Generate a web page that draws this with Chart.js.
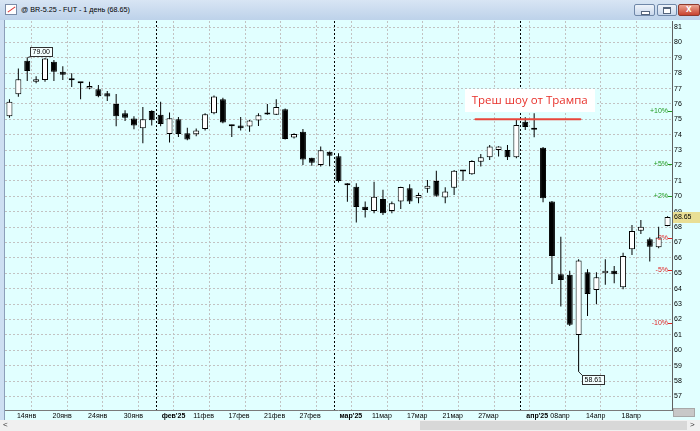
<!DOCTYPE html>
<html>
<head>
<meta charset="utf-8">
<script src="https://cdn.jsdelivr.net/npm/chart.js@4.4.1/dist/chart.umd.min.js"></script>
<style>
html, body { margin: 0; padding: 0; }
body { width: 700px; height: 431px; overflow: hidden; position: relative; background: #f0f0f0; font-family: "Liberation Sans", Arial, sans-serif; }
#bar { position: absolute; left: 0; top: 0; width: 700px; height: 20px; background: linear-gradient(#d8e5f4, #bdd2ea); }
#icon { position: absolute; left: 5px; top: 4px; width: 10px; height: 9px; background: #fff; border: 1px solid #7a8ca8; overflow: hidden; }
#icon i { position: absolute; left: 1px; top: 4px; width: 9px; height: 1px; background: #d33; transform: rotate(-35deg); }
#ttl { position: absolute; left: 21px; top: 5px; font-size: 7.2px; color: #000; white-space: nowrap; }
.b { position: absolute; top: 4px; height: 10px; border: 1px solid #6f87a8; border-radius: 2px; background: linear-gradient(#eef3fa, #c9d8ec); }
#bmin { left: 634px; width: 19px; }
#bmax { left: 657px; width: 18px; }
#bcls { left: 678px; width: 20px; background: linear-gradient(#eba493, #c9442f); border-color: #8d3a2e; }
#bmin:after { content: ""; position: absolute; left: 6px; top: 6px; width: 7px; height: 2px; background: #fff; border: 1px solid #55657c; }
#bmax:after { content: ""; position: absolute; left: 5px; top: 2px; width: 6px; height: 4px; border: 1px solid #55657c; border-top-width: 2px; background: #fff; }
#bcls:after { content: "x"; position: absolute; left: 7px; top: -2px; font: bold 10px "Liberation Sans"; color: #fff; }
#side { position: absolute; left: 0; top: 20px; width: 4px; height: 400px; background: #cddff2; border-right: 1px solid #8b9fb9; }
#wrap { position: absolute; left: 5px; top: 20px; width: 695px; height: 400px; background: #e1ffff; }
#scroll { position: absolute; left: 0; top: 420px; width: 700px; height: 11px; background: #f0f0f0; font-size: 8px; color: #333; }
#thumb { position: absolute; left: 420px; top: 1px; width: 267px; height: 9px; background: #d8d8d8; }
#la { position: absolute; left: 3px; top: 0; }
#ra { position: absolute; left: 690px; top: 0; }
#corner { position: absolute; left: 673px; top: 408px; width: 20px; height: 7px; background: #c8c8c8; border: 1px solid #a8a8a8; z-index: 2; }
</style>
</head>
<body>
<div id="bar"><div id="icon"><i></i></div><div id="ttl"></div>
  <div class="b" id="bmin"></div><div class="b" id="bmax"></div><div class="b" id="bcls"></div></div>
<div id="side"></div>
<div id="wrap"><canvas id="myChart" width="695" height="400"></canvas></div>
<div id="corner"></div>
<div id="scroll"><div id="thumb"></div><span id="la">&lt;</span><span id="ra">&gt;</span></div>
<script>
// trading days, DD.MM
var dates = [
  '09.01','10.01','13.01','14.01','15.01','16.01','17.01','20.01','21.01','22.01','23.01','24.01','27.01','28.01','29.01','30.01','31.01',
  '03.02','04.02','05.02','06.02','07.02','10.02','11.02','12.02','13.02','14.02','17.02','18.02','19.02','20.02','21.02','24.02','25.02','26.02','27.02','28.02',
  '03.03','04.03','05.03','06.03','07.03','10.03','11.03','12.03','13.03','14.03','17.03','18.03','19.03','20.03','21.03','24.03','25.03','26.03','27.03','28.03','31.03',
  '01.04','02.04','03.04','04.04','07.04','08.04','09.04','10.04','11.04','14.04','15.04','16.04','17.04','18.04','21.04','22.04','23.04'
];

var open = [
  75.20, 76.63, 78.80, 77.45, 77.55, 78.75, 78.10, 77.62, 77.40, 77.00, 76.95, 76.70, 76.00, 75.40, 75.05, 74.42, 75.55,
  75.30, 74.05, 75.00, 74.10, 74.03, 74.38, 75.40, 76.30, 74.60, 74.60, 74.53, 74.92, 75.36, 75.30, 75.65, 73.82, 74.20, 72.50, 72.04, 72.90,
  72.60, 70.72, 70.63, 69.33, 69.05, 69.83, 69.05, 69.66, 70.53, 69.88, 70.50, 71.00, 69.92, 70.56, 71.66, 71.43, 72.25, 72.54, 73.01, 73.01, 72.54,
  74.85, 74.40, 73.16, 69.66, 64.94, 64.90, 61.00, 65.07, 63.92, 65.00, 65.16, 64.10, 66.56, 67.77, 67.21, 66.69, 68.08
];
var high = [
  76.30, 78.30, 79.00, 77.80, 78.98, 78.85, 78.45, 78.00, 77.42, 77.45, 77.23, 76.85, 76.65, 75.60, 75.20, 75.80, 75.60,
  76.15, 75.45, 75.15, 74.45, 74.40, 75.40, 76.55, 76.40, 74.65, 75.15, 74.96, 75.40, 76.00, 76.30, 75.70, 74.10, 74.38, 72.50, 73.23, 72.92,
  72.80, 70.85, 70.85, 69.66, 70.95, 70.42, 69.66, 70.63, 70.79, 70.24, 71.06, 71.67, 70.59, 71.71, 71.68, 72.35, 72.75, 73.34, 73.25, 73.34, 74.96,
  75.14, 75.40, 73.20, 69.70, 67.38, 65.16, 65.92, 65.27, 65.07, 65.92, 65.48, 66.34, 68.14, 68.47, 67.32, 68.03, 68.70
];
var low = [
  75.10, 76.47, 77.50, 77.35, 77.45, 77.50, 77.55, 77.10, 76.30, 76.95, 76.43, 76.20, 74.55, 74.90, 74.35, 73.45, 74.60,
  74.55, 73.50, 73.85, 73.65, 73.90, 74.27, 75.33, 74.75, 73.85, 74.27, 74.20, 74.57, 75.30, 75.29, 73.70, 73.75, 72.04, 71.98, 71.93, 71.95,
  70.90, 69.65, 68.30, 68.62, 68.90, 68.79, 68.90, 69.18, 69.50, 69.55, 70.24, 69.98, 69.55, 70.09, 71.02, 71.40, 71.93, 72.36, 72.58, 72.36, 72.47,
  74.31, 73.84, 69.62, 64.31, 62.84, 61.58, 58.61, 62.23, 62.99, 64.25, 64.36, 63.97, 66.19, 67.56, 65.76, 66.63, 68.05
];
var close = [
  76.15, 77.60, 78.15, 77.60, 78.95, 78.10, 77.90, 77.54, 77.35, 77.17, 76.50, 76.48, 75.20, 75.10, 74.60, 75.00, 74.95,
  74.70, 75.07, 74.05, 73.70, 74.27, 75.33, 76.48, 74.80, 74.55, 74.42, 74.92, 75.26, 75.32, 75.80, 73.73, 74.05, 72.40, 72.18, 73.00, 72.64,
  71.00, 70.82, 69.30, 69.12, 69.98, 68.90, 69.55, 70.60, 69.66, 70.09, 70.68, 70.03, 70.31, 71.67, 71.62, 72.30, 72.54, 73.23, 73.23, 72.54, 74.64,
  74.50, 74.33, 69.88, 66.13, 64.57, 61.65, 65.83, 63.66, 64.75, 65.16, 64.94, 66.13, 67.75, 68.03, 66.73, 67.32, 68.65
];

var dayTicks = ['14.01','20.01','24.01','30.01','11.02','17.02','21.02','27.02','11.03','17.03','21.03','27.03','08.04','14.04','18.04'];
var monthTicks = ['03.02','03.03','01.04'];
var monthNames = ['янв','фев','мар','апр'];
var yTicks = [57,58,59,60,61,62,63,64,65,66,67,68,69,70,71,72,73,74,75,76,77,78,79,80,81];
var pctLevels = [10, 5, 2, -2, -5, -10];

var note = 'Треш шоу от Трампа';
var noteLevel = 75.0;     // price of the red line
var noteFrom = 52.4, noteTo = 64.2;   // bar index range of the line
var noteX = 58.5, noteY = 76.26;      // centre of the caption

var lastClose = close[close.length - 1];
document.getElementById('ttl').textContent = '@ BR-5.25 - FUT - 1 день (' + lastClose.toFixed(2) + ')';

var FONT = '"Liberation Sans", Arial, sans-serif';
Chart.defaults.font.family = FONT;

function dayLabel(d) {
  return d.slice(0, 2) + monthNames[parseInt(d.slice(3), 10) - 1];
}
function isMonthStart(i) {
  return monthTicks.indexOf(dates[i]) >= 0;
}

var overlay = {
  id: 'overlay',
  afterLayout: function (chart) {
    // month row has no height of its own; give its label clip the same band as x
    var s = chart.scales.xm;
    s.bottom = s.top + 10;
  },
  afterDatasetsDraw: function (chart) {
    var c = chart.ctx, a = chart.chartArea, xs = chart.scales.x, ys = chart.scales.y;
    c.save();

    // percent levels from last close
    c.font = '7px ' + FONT;
    c.textAlign = 'right';
    c.textBaseline = 'middle';
    c.lineWidth = 1;
    pctLevels.forEach(function (p) {
      var py = Math.round(ys.getPixelForValue(lastClose * (1 + p / 100))) + 0.5;
      c.fillStyle = c.strokeStyle = p > 0 ? '#1f9a1f' : '#e02424';
      c.fillText((p > 0 ? '+' : '') + p + '%', a.right - 4, py);
      c.beginPath(); c.moveTo(a.right - 4, py); c.lineTo(a.right, py); c.stroke();
    });

    // extreme callouts
    function callout(i, v, up) {
      var cx = xs.getPixelForValue(i), cy = ys.getPixelForValue(v);
      var t = v.toFixed(2);
      c.font = '7px ' + FONT;
      var w = Math.round(c.measureText(t).width) + 4, h = 9;
      var bx = Math.round(cx + 3) + 0.5;
      var by = up ? Math.round(cy - 2 - h) + 0.5 : Math.round(cy + 3) + 0.5;
      c.strokeStyle = '#303030';
      c.beginPath();
      c.moveTo(cx, cy);
      c.lineTo(bx, up ? by + h : by);
      c.stroke();
      c.fillStyle = '#f4ffff';
      c.fillRect(bx, by, w, h);
      c.strokeRect(bx, by, w, h);
      c.fillStyle = '#000';
      c.textAlign = 'left';
      c.fillText(t, bx + 2, by + h / 2 + 0.5);
    }
    var hi = Math.max.apply(null, high), lo = Math.min.apply(null, low);
    callout(high.indexOf(hi), hi, true);
    callout(low.indexOf(lo), lo, false);

    // red note
    c.font = '11.5px "Open Sans", sans-serif';
    var tx = xs.getPixelForValue(noteX), ty = ys.getPixelForValue(noteY);
    c.fillStyle = '#ffffff';
    c.fillRect(Math.round(tx - 65), Math.round(ty - 11), 130, 23);
    c.fillStyle = '#e8302a';
    c.textAlign = 'center';
    c.fillText(note, tx, ty + 1);
    c.strokeStyle = '#e8453a';
    c.lineWidth = 2;
    c.lineCap = 'round';
    var ly = ys.getPixelForValue(noteLevel);
    c.beginPath();
    c.moveTo(xs.getPixelForValue(noteFrom), ly);
    c.lineTo(xs.getPixelForValue(noteTo), ly);
    c.stroke();
    c.restore();
  },
  afterDraw: function (chart) {
    var c = chart.ctx, a = chart.chartArea, ys = chart.scales.y;
    var py = Math.round(ys.getPixelForValue(lastClose));
    c.save();
    c.fillStyle = '#e9df95';
    c.fillRect(a.right + 1, py - 5, 27, 11);
    c.fillStyle = '#000';
    c.font = '7px ' + FONT;
    c.textAlign = 'left';
    c.textBaseline = 'middle';
    c.fillText(lastClose.toFixed(2), a.right + 2, py + 0.5);
    c.restore();
  }
};

var ctx = document.getElementById('myChart').getContext('2d');
var chart = new Chart(ctx, {
  type: 'bar',
  data: {
    labels: dates,
    datasets: [{
      // bodies
      data: open.map(function (o, i) { return [o, close[i]]; }),
      backgroundColor: function (c) { return close[c.dataIndex] >= open[c.dataIndex] ? '#ffffff' : '#000000'; },
      borderColor: '#000000',
      borderWidth: 1,
      borderSkipped: false,
      barThickness: 6,
      minBarLength: 2,
      grouped: false,
      inflateAmount: 0
    }, {
      // wicks
      data: low.map(function (l, i) { return [l, high[i]]; }),
      backgroundColor: '#000000',
      borderWidth: 0,
      barThickness: 1,
      grouped: false,
      inflateAmount: 0
    }]
  },
  options: {
    responsive: false,
    animation: false,
    events: [],
    layout: { padding: { top: 1, left: 0, right: 0, bottom: 0 }, autoPadding: false },
    plugins: { legend: { display: false }, tooltip: { enabled: false }, title: { display: false } },
    scales: {
      x: {
        type: 'category',
        position: 'bottom',
        weight: 1,
        offset: true,
        grid: {
          offset: true,
          drawTicks: false,
          color: function (c) { return isMonthStart(c.index) ? '#000000' : '#c2c2c2'; },
          lineWidth: function (c) {
            if (c.index >= dates.length) return 0;
            return (isMonthStart(c.index) || c.index % 4 === 3) ? 1 : 0;
          }
        },
        border: { display: true, color: '#7a7a7a', width: 1, dash: [2, 2] },
        ticks: {
          autoSkip: false,
          maxRotation: 0,
          align: 'end',
          padding: 2,
          color: '#000',
          font: { size: 7 },
          callback: function (v, i) { return dayTicks.indexOf(dates[i]) >= 0 ? dayLabel(dates[i]) : ''; }
        },
        afterFit: function (s) { s.height = 10; s.paddingLeft = 0; s.paddingRight = 0; }
      },
      xm: {
        type: 'category',
        position: 'bottom',
        weight: 0,
        offset: true,
        grid: { display: false, drawTicks: false },
        border: { display: false },
        ticks: {
          autoSkip: false,
          maxRotation: 0,
          align: 'start',
          labelOffset: 1,
          padding: 2,
          color: '#000',
          font: { size: 7, weight: 'bold' },
          callback: function (v, i) {
            return isMonthStart(i) ? monthNames[parseInt(dates[i].slice(3), 10) - 1] + "'25" : '';
          }
        },
        afterFit: function (s) { s.height = 0; s.paddingLeft = 0; s.paddingRight = 0; }
      },
      y: {
        position: 'right',
        min: 56.12,
        max: 81.39,
        afterBuildTicks: function (s) { s.ticks = yTicks.map(function (v) { return { value: v }; }); },
        grid: { color: '#c2c2c2', lineWidth: 1, drawTicks: false },
        border: { display: true, color: '#606060', width: 1, dash: [2, 2] },
        ticks: { padding: 2, color: '#000', font: { size: 7 } },
        afterFit: function (s) { s.width = 28; s.paddingTop = 0; s.paddingBottom = 0; }
      }
    }
  },
  plugins: [overlay]
});
</script>
</body>
</html>
